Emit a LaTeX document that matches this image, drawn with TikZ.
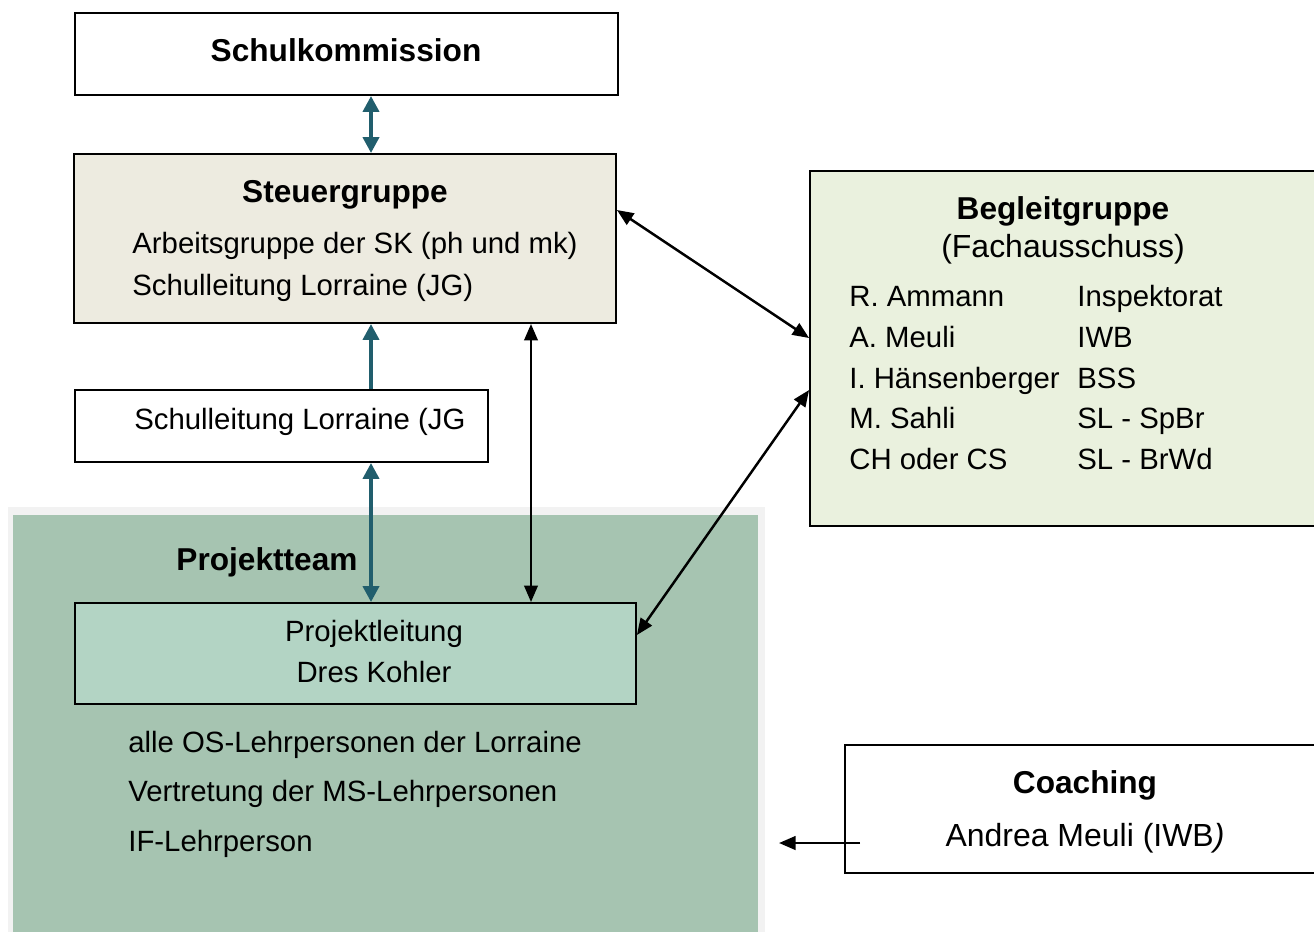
\documentclass[tikz,border=0pt]{standalone}
\usepackage{fontspec}
\setmainfont{Liberation Sans}
\usetikzlibrary{arrows.meta, positioning}

\definecolor{sgbeige}{HTML}{EDEBE0}
\definecolor{bggreen}{HTML}{EAF1DE}
\definecolor{ptgreen}{HTML}{A6C4B1}
\definecolor{ptgrey}{HTML}{F2F2F2}
\definecolor{plgreen}{HTML}{B3D4C4}
\definecolor{arrteal}{HTML}{215E6D}

\tikzset{
	box/.style={draw=black, line width=1.1pt, inner sep=0pt},
	txt/.style={font=\fontsize{16.7}{20}\selectfont, inner sep=0pt, anchor=base},
	bigtxt/.style={font=\fontsize{18.2}{22}\selectfont, inner sep=0pt, anchor=base},
	head/.style={font=\fontsize{18}{22}\selectfont\bfseries, inner sep=0pt, anchor=base},
	tealline/.style={draw=arrteal, line width=2.2pt},
	blackline/.style={draw=black, line width=1.4pt},
	tealtip/.style={>={Triangle[length=0.32cm,width=0.32cm]}},
	blacktip/.style={>={Triangle[length=0.33cm,width=0.27cm]}}
}

\begin{document}
\begin{tikzpicture}[x=0.02cm, y=-0.02cm]
	\useasboundingbox (0,0) rectangle (1314,931);
	
	%projektteam area
	\fill[ptgrey] (8,507) rectangle (765,940);
	\fill[ptgreen] (13,515) rectangle (758,940);
	
	%boxes
	\node[box, fill=white, minimum width=10.86cm, minimum height=1.64cm] (sk) at (346.5,54) {};
	\node[box, fill=sgbeige, minimum width=10.84cm, minimum height=3.38cm] (sg) at (345,238.5) {};
	\node[box, fill=white, minimum width=8.26cm, minimum height=1.44cm] (sl) at (281.5,426) {};
	\node[box, fill=plgreen, minimum width=11.22cm, minimum height=2.02cm] (pl) at (355.5,653.5) {};
	\node[box, fill=bggreen, minimum width=10.16cm, minimum height=7.1cm] (bg) at (1064,348.5) {};
	\node[box, fill=white, minimum width=9.46cm, minimum height=2.56cm] (co) at (1081.5,809) {};
	
	%texts
	\node[head] (sktitle) at (346,61) {Schulkommission};
	\node[head] (sgtitle) at (345,202) {Steuergruppe};
	\node[txt, anchor=base west] (sg1) at (132,253.5) {Arbeitsgruppe der SK (ph und mk)};
	\node[txt, anchor=base west] (sg2) at (132,295.5) {Schulleitung Lorraine (JG)};
	\node[txt, anchor=base west] (sltext) at (134,429.5) {Schulleitung Lorraine (JG};
	\node[head] (pt) at (267,570) {Projektteam};
	\node[txt] (pl1) at (374,641.5) {Projektleitung};
	\node[txt] (pl2) at (374,682.5) {Dres Kohler};
	\node[txt, anchor=base west] (pt1) at (128,752.5) {alle OS-Lehrpersonen der Lorraine};
	\node[txt, anchor=base west] (pt2) at (128,801.5) {Vertretung der MS-Lehrpersonen};
	\node[txt, anchor=base west] (pt3) at (128,851.5) {IF-Lehrperson};
	\node[head] (bgtitle) at (1063,219) {Begleitgruppe};
	\node[bigtxt] (bgsub) at (1063,257.4) {(Fachausschuss)};
	\foreach \who/\org [count=\i] in {R. Ammann/Inspektorat, A. Meuli/IWB, I. Hänsenberger/BSS, M. Sahli/SL - SpBr, CH oder CS/SL - BrWd}{
		\node[txt, anchor=base west] (bgn\i) at (849,265.75+\i*40.75) {\who};
		\node[txt, anchor=base west] (bgo\i) at (1077,265.75+\i*40.75) {\org};
	}
	\node[head] (cotitle) at (1085,793) {Coaching};
	\node[bigtxt] (coname) at (1085,846.4) {Andrea Meuli (IWB\textit{)}};
	
	%arrows
	\coordinate (tealx) at (371,0);
	\coordinate (blackx) at (531,0);
	\draw[tealline, tealtip, <->] (sk.south -| tealx) -- (sg.north -| tealx);
	\draw[tealline, tealtip, ->] (sl.north -| tealx) -- (sg.south -| tealx);
	\draw[tealline, tealtip, <->] (sl.south -| tealx) -- (pl.north -| tealx);
	\draw[blackline, blacktip, <->] (sg.south -| blackx) -- (pl.north -| blackx);
	\draw[blackline, blacktip, <->] ([yshift=0.57cm]sg.east) -- ([yshift=0.21cm]bg.west);
	\draw[blackline, blacktip, <->] ([yshift=-0.83cm]bg.west) -- ([yshift=0.37cm]pl.east);
	\coordinate (costart) at (860,843);
	\coordinate (coend) at (779,843);
	\draw[blackline, blacktip, ->] (costart) -- (coend);
\end{tikzpicture}
\end{document}
